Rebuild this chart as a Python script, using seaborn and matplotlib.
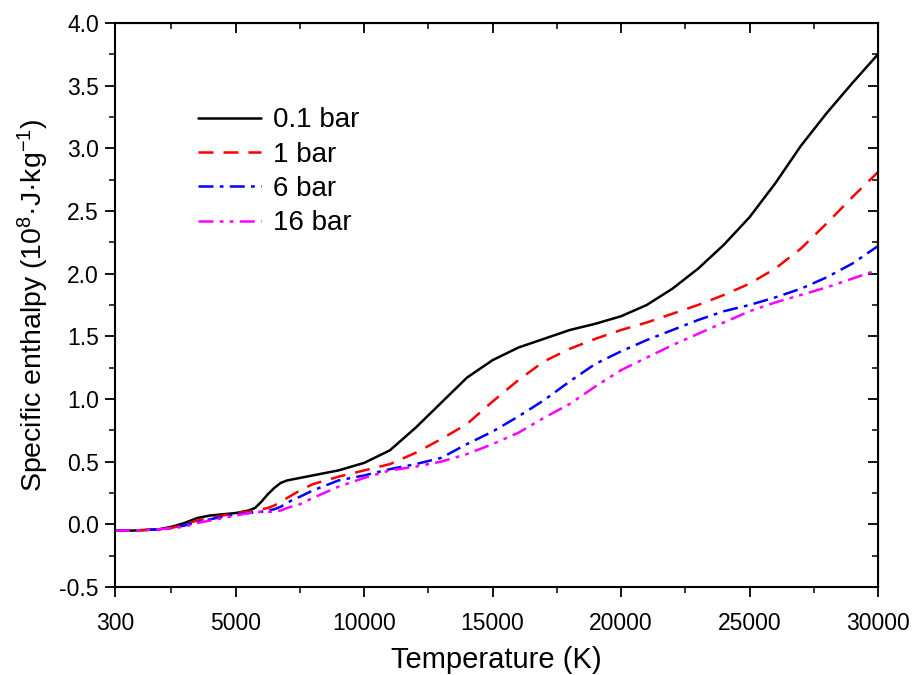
import numpy as np
import pandas as pd
import matplotlib
matplotlib.use("Agg")
import matplotlib.pyplot as plt
import seaborn as sns
from matplotlib.ticker import MultipleLocator, FixedLocator

# --- data ---
temperature = [300, 1000, 2000, 2500, 3000, 3500, 4000, 4500, 5000, 5500,
               5750, 6000, 6250, 6500, 6750, 7000, 7250, 7500, 8000, 9000,
               10000, 11000, 12000, 13000, 14000, 15000, 16000, 17000, 18000,
               19000, 20000, 21000, 22000, 23000, 24000, 25000, 26000, 27000,
               28000, 29000, 30000]

h_01bar = [-0.05, -0.05, -0.04, -0.02, 0.01, 0.05, 0.07, 0.08, 0.09, 0.11,
           0.13, 0.18, 0.24, 0.29, 0.33, 0.35, 0.36, 0.37, 0.39, 0.43,
           0.49, 0.59, 0.77, 0.97, 1.17, 1.31, 1.41, 1.48, 1.55,
           1.60, 1.66, 1.75, 1.88, 2.04, 2.23, 2.45, 2.72, 3.02,
           3.28, 3.52, 3.75]

h_1bar = [-0.05, -0.05, -0.04, -0.03, 0.00, 0.03, 0.05, 0.07, 0.09, 0.10,
          0.11, 0.12, 0.13, 0.15, 0.18, 0.21, 0.24, 0.27, 0.32, 0.38,
          0.43, 0.48, 0.57, 0.68, 0.80, 0.98, 1.15, 1.30, 1.40,
          1.48, 1.55, 1.61, 1.68, 1.75, 1.83, 1.92, 2.04, 2.20,
          2.40, 2.61, 2.81]

h_6bar = [-0.05, -0.05, -0.04, -0.03, -0.01, 0.02, 0.04, 0.06, 0.08, 0.09,
          0.095, 0.10, 0.11, 0.12, 0.14, 0.17, 0.20, 0.22, 0.27, 0.35,
          0.39, 0.44, 0.48, 0.53, 0.64, 0.74, 0.86, 0.99, 1.14,
          1.28, 1.38, 1.47, 1.55, 1.63, 1.70, 1.75, 1.81, 1.88,
          1.97, 2.08, 2.22]

h_16bar = [-0.05, -0.05, -0.04, -0.03, -0.02, 0.01, 0.03, 0.05, 0.07, 0.09,
           0.095, 0.10, 0.10, 0.10, 0.11, 0.13, 0.145, 0.16, 0.21, 0.30,
           0.37, 0.43, 0.46, 0.50, 0.56, 0.64, 0.73, 0.85, 0.96,
           1.10, 1.23, 1.33, 1.43, 1.52, 1.61, 1.70, 1.77, 1.83,
           1.89, 1.96, 2.03]

labels = ["0.1 bar", "1 bar", "6 bar", "16 bar"]
colors = ["black", "red", "blue", "magenta"]
dash_patterns = [None, (6, 4), (6, 2.5, 1.5, 2.5), (6, 2.5, 1.5, 2.5, 1.5, 2.5)]

x_ticks = [300, 5000, 10000, 15000, 20000, 25000, 30000]
x_minor = [2500, 7500, 12500, 17500, 22500, 27500]

sns.set_style("ticks")
plt.rcParams["font.family"] = ["Liberation Sans", "DejaVu Sans"]
plt.rcParams["mathtext.fontset"] = "custom"
plt.rcParams["mathtext.rm"] = "Liberation Sans"
plt.rcParams["mathtext.it"] = "Liberation Sans"
plt.rcParams["mathtext.default"] = "regular"
for key in ["text.color", "axes.labelcolor", "xtick.color", "ytick.color", "axes.edgecolor"]:
    plt.rcParams[key] = "black"

fig = plt.figure(figsize=(9.16, 6.75), dpi=100)
ax = fig.add_axes([0.1255, 0.1304, 0.8330, 0.8356])

for series, lab, col, dsh in zip([h_01bar, h_1bar, h_6bar, h_16bar], labels, colors, dash_patterns):
    sns.lineplot(x=temperature, y=series, ax=ax, color=col, label=lab, linewidth=1.8)
    if dsh is not None:
        ax.lines[-1].set_dashes(dsh)

ax.set_xlim(300, 30000)
ax.set_ylim(-0.5, 4.0)
ax.xaxis.set_major_locator(FixedLocator(x_ticks))
ax.xaxis.set_minor_locator(FixedLocator(x_minor))
ax.yaxis.set_major_locator(MultipleLocator(0.5))
ax.yaxis.set_minor_locator(MultipleLocator(0.25))
ax.yaxis.set_major_formatter(plt.FuncFormatter(lambda v, p: f"{v:.1f}"))
ax.tick_params(which="major", direction="out", length=7.5, width=1.3, labelsize=16.5, pad=4)
ax.tick_params(which="minor", direction="out", length=4.5, width=1.1)
ax.tick_params(axis="x", which="major", pad=10.5)
for sp in ax.spines.values():
    sp.set_linewidth(1.5)

# mirrored inward ticks on top and right
top = ax.secondary_xaxis("top")
top.xaxis.set_major_locator(FixedLocator(x_ticks))
top.xaxis.set_minor_locator(FixedLocator(x_minor))
top.tick_params(which="major", direction="in", length=7.5, width=1.3, labeltop=False)
top.tick_params(which="minor", direction="in", length=4, width=1.1)
right = ax.secondary_yaxis("right")
right.yaxis.set_major_locator(MultipleLocator(0.5))
right.yaxis.set_minor_locator(MultipleLocator(0.25))
right.tick_params(which="major", direction="in", length=7.5, width=1.3, labelright=False)
right.tick_params(which="minor", direction="in", length=4, width=1.1)

ax.set_xlabel("Temperature (K)", fontsize=21, labelpad=8)
ax.set_ylabel("Specific enthalpy (10$^{8}$·J·kg$^{-1}$)", fontsize=20.5, labelpad=6)

ax.legend(loc="upper left", bbox_to_anchor=(0.09, 0.875), frameon=False, fontsize=20,
          handlelength=2.3, handletextpad=0.4, labelspacing=0.3, borderpad=0)

fig.savefig("out.png", dpi=100)
